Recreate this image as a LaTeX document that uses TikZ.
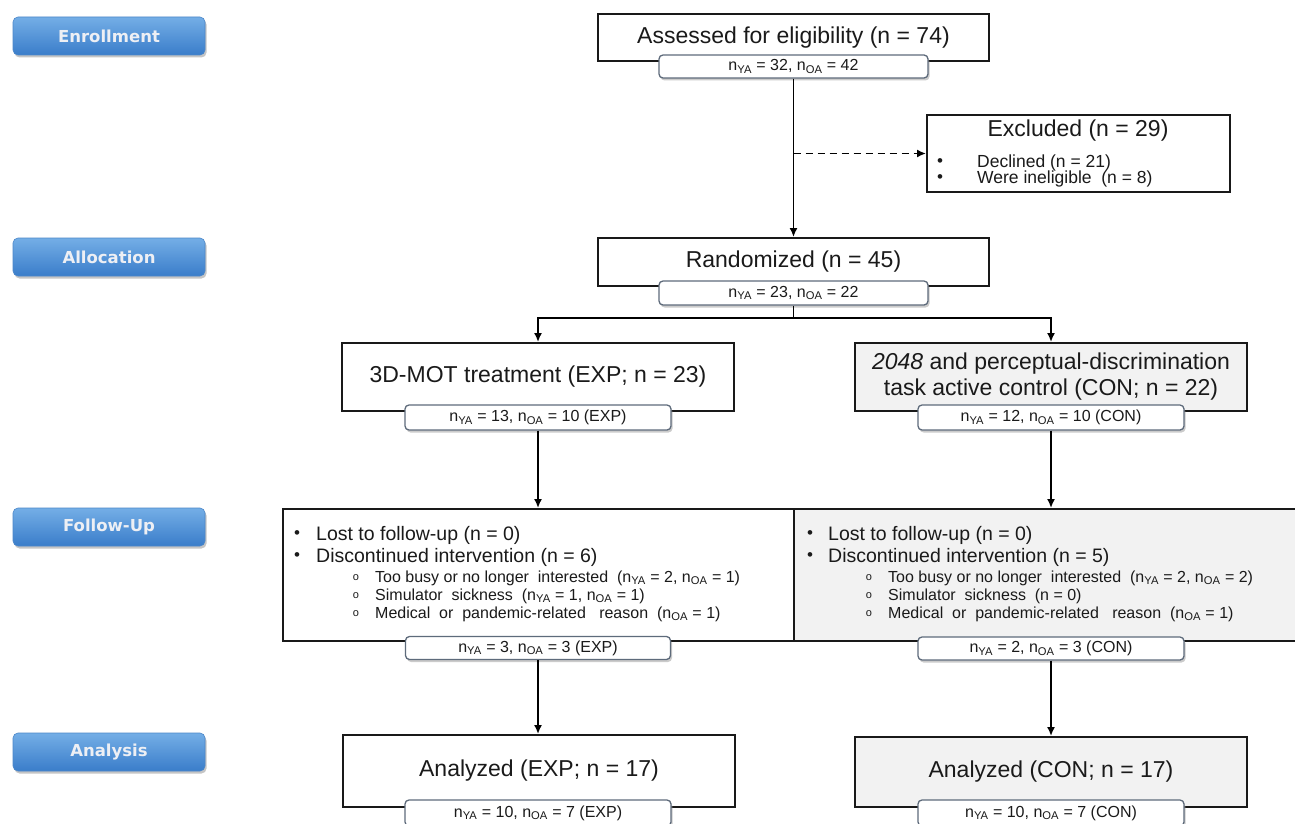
\documentclass[tikz,border=0pt]{standalone}
\usepackage{fontspec}
\setmainfont{Liberation Sans}
\newfontfamily\btnfont{DejaVu Sans}
\usetikzlibrary{arrows.meta,shadows,shadings}
\definecolor{subline}{HTML}{5E6B7B}
\definecolor{btntop}{HTML}{74AEE6}
\definecolor{btnbot}{HTML}{3A7DCA}
\definecolor{btnedge}{HTML}{4C87C9}
\definecolor{shadebox}{HTML}{F2F2F2}
\definecolor{ink}{HTML}{1A1A1A}
\definecolor{btntext}{HTML}{EDEFF4}
\newcommand{\myfs}[2]{\fontsize{#1}{#2}\selectfont}
\newcommand{\nya}{n\textsubscript{YA}}
\newcommand{\noa}{n\textsubscript{OA}}
\tikzset{
  mainbox/.style={draw=black!90, line width=1.9pt, fill=white, inner sep=0pt, align=center, text=ink, font=\myfs{23}{26}},
  graybox/.style={mainbox, fill=shadebox},
  subbox/.style={draw=subline, line width=1.3pt, rounded corners=4pt, fill=white, inner sep=0pt,
    drop shadow={shadow xshift=1.5pt, shadow yshift=-2.5pt, fill=black!45, opacity=0.45},
    font=\myfs{16}{18}, text=ink},
  btn/.style={draw=btnedge, line width=0.6pt, rounded corners=5pt, top color=btntop, bottom color=btnbot,
    minimum width=192pt, minimum height=38pt, inner sep=0pt, font=\btnfont\bfseries\myfs{16.5}{18}, text=btntext,
    drop shadow={shadow xshift=1.5pt, shadow yshift=-2.5pt, fill=black!50, opacity=0.45}},
  arr/.style={line width=1.8pt, -{Latex[length=9pt,width=8pt]}},
  plain/.style={line width=1.8pt},
  txt/.style={inner sep=0pt, text=ink},
  bigtxt/.style={txt, font=\myfs{19.5}{22}},
  smalltxt/.style={txt, font=\myfs{16}{18}},
  exctxt/.style={txt, font=\myfs{17.5}{19}},
  dot/.style={txt, font=\myfs{17}{19}},
  circ/.style={txt, font=\myfs{11}{12}},
}
\begin{document}
\begin{tikzpicture}[x=1pt, y=-1pt]
\useasboundingbox (0,0) rectangle (1295,824);
\clip (0,0) rectangle (1295,824);
\fill[white] (0,0) rectangle (1295,824);

% stage buttons
\node[btn] (enrol) at (109,36) {Enrollment};
\node[btn] (alloc) at (109,257) {Allocation};
\node[btn] (follow) at (109,527) {Follow-Up};
\node[btn] (analys) at (109,752) {Analysis};

% enrollment
\node[mainbox, minimum width=391pt, minimum height=47pt] (assess) at (793.5,37.5) {Assessed for eligibility (n = 74)};
\node[subbox, minimum width=269pt, minimum height=23pt] (assessS) at (793.5,66.5) {\nya{} = 32, \noa{} = 42};

\node[mainbox, minimum width=303pt, minimum height=77pt] (excl) at (1078.5,153.5) {};
\node[txt, font=\myfs{23}{26}] (exT) at (1078,131) {Excluded (n = 29)};
\node[dot] (exB1) at (940,163) {•};
\node[exctxt, anchor=west] (exD) at (977,163) {Declined (n = 21)};
\node[dot] (exB2) at (940,179) {•};
\node[exctxt, anchor=west] (exW) at (977,179) {Were ineligible\ \ (n = 8)};

% allocation
\node[mainbox, minimum width=391pt, minimum height=48pt] (rand) at (793.5,262) {Randomized (n = 45)};

\coordinate (dashA) at (793.5,153.5);
\draw[arr] (assessS.south) -- (rand.north);
\draw[arr, dash pattern=on 7pt off 5pt] (dashA) -- (excl.west);

\node[mainbox, minimum width=392pt, minimum height=68pt] (exp) at (538,377) {3D-MOT treatment (EXP; n = 23)};
\node[graybox, minimum width=392pt, minimum height=68pt] (con) at (1051,377) {\textit{2048} and perceptual-discrimination\\task active control (CON; n = 22)};

\coordinate (split) at (793.5,318);

% follow-up boxes
\node[mainbox, minimum width=511pt, minimum height=132pt] (fuL) at (538.5,575) {};
\node[graybox, minimum width=514pt, minimum height=132pt] (fuR) at (1051,575) {};

% analysis boxes
\node[mainbox, minimum width=392pt, minimum height=72pt] (anL) at (539,771) {Analyzed (EXP; n = 17)};
\node[graybox, minimum width=392pt, minimum height=70pt] (anR) at (1051,772) {Analyzed (CON; n = 17)};

% sub boxes
\node[subbox, minimum width=269pt, minimum height=24pt] (randS) at (793.5,293) {\nya{} = 23, \noa{} = 22};
\node[subbox, minimum width=266pt, minimum height=25pt] (expS) at (538,417.5) {\nya{} = 13, \noa{} = 10 (EXP)};
\node[subbox, minimum width=266pt, minimum height=25pt] (conS) at (1051,417.5) {\nya{} = 12, \noa{} = 10 (CON)};
\node[subbox, minimum width=265pt, minimum height=23pt] (fuLS) at (538,648) {\nya{} = 3, \noa{} = 3 (EXP)};
\node[subbox, minimum width=266pt, minimum height=23pt] (fuRS) at (1051,648.5) {\nya{} = 2, \noa{} = 3 (CON)};
\node[subbox, minimum width=266pt, minimum height=26pt] (anLS) at (538,813) {\nya{} = 10, \noa{} = 7 (EXP)};
\node[subbox, minimum width=266pt, minimum height=26pt] (anRS) at (1051,813) {\nya{} = 10, \noa{} = 7 (CON)};

% connectors
\draw[plain] (randS.south) -- (split);
\draw[arr] (split) -| (exp.north);
\draw[arr] (split) -| (con.north);
\draw[arr] (expS.south) -- (expS.south |- fuL.north);
\draw[arr] (conS.south) -- (conS.south |- fuR.north);
\draw[arr] (fuLS.south) -- (fuLS.south |- anL.north);
\draw[arr] (fuRS.south) -- (fuRS.south |- anR.north);

% follow-up text, left
\node[dot] (lb1) at (297,535) {•};
\node[bigtxt, anchor=west] (lt1) at (316,535) {Lost to follow-up (n = 0)};
\node[dot] (lb2) at (297,557) {•};
\node[bigtxt, anchor=west] (lt2) at (316,557) {Discontinued intervention (n = 6)};
\node[circ] (lc1) at (356,578) {o};
\node[smalltxt, anchor=west] (ls1) at (375,578) {Too busy or no longer\ \ interested\ \ (\nya{} = 2, \noa{} = 1)};
\node[circ] (lc2) at (356,596) {o};
\node[smalltxt, anchor=west] (ls2) at (375,596) {Simulator\ \ sickness\ \ (\nya{} = 1, \noa{} = 1)};
\node[circ] (lc3) at (356,614) {o};
\node[smalltxt, anchor=west] (ls3) at (375,614) {Medical\ \ or\ \ pandemic-related\ \ \ reason\ \ (\noa{} = 1)};

% follow-up text, right
\node[dot] (rb1) at (810,535) {•};
\node[bigtxt, anchor=west] (rt1) at (828,535) {Lost to follow-up (n = 0)};
\node[dot] (rb2) at (810,557) {•};
\node[bigtxt, anchor=west] (rt2) at (828,557) {Discontinued intervention (n = 5)};
\node[circ] (rc1) at (869,578) {o};
\node[smalltxt, anchor=west] (rs1) at (888,578) {Too busy or no longer\ \ interested\ \ (\nya{} = 2, \noa{} = 2)};
\node[circ] (rc2) at (869,596) {o};
\node[smalltxt, anchor=west] (rs2) at (888,596) {Simulator\ \ sickness\ \ (n = 0)};
\node[circ] (rc3) at (869,614) {o};
\node[smalltxt, anchor=west] (rs3) at (888,614) {Medical\ \ or\ \ pandemic-related\ \ \ reason\ \ (\noa{} = 1)};
\end{tikzpicture}
\end{document}
